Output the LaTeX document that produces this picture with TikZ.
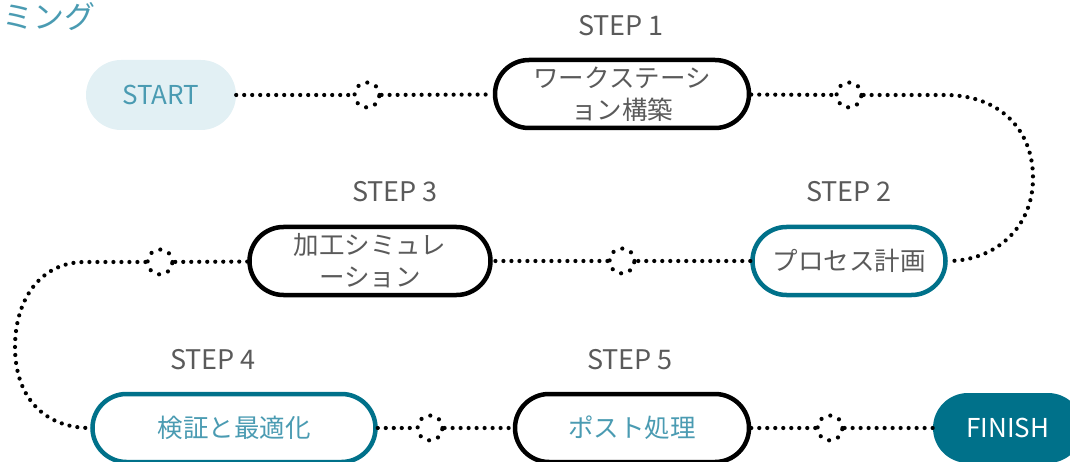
\documentclass[tikz,border=0pt]{standalone}
\usepackage{fontspec}
\setmainfont{Noto Sans CJK JP}
\usetikzlibrary{calc}
\definecolor{tealdark}{HTML}{00718A}
\definecolor{teallight}{HTML}{E2F0F4}
\definecolor{tealtext}{HTML}{4A9BB2}
\definecolor{graytext}{HTML}{5A5A5A}
\tikzset{
  pill/.style={rectangle, rounded corners=34pt, minimum height=68pt, inner sep=0pt, align=center, line width=4.5pt},
  blackpill/.style={pill, draw=black, fill=white, text=graytext, font=\fontsize{25.5}{32}\selectfont},
  tealpill/.style={pill, draw=tealdark, fill=white, text=graytext, font=\fontsize{25.5}{32}\selectfont},
  endpill/.style={rectangle, rounded corners=35pt, minimum height=70pt, inner sep=0pt, font=\fontsize{26}{30}\selectfont},
  steplabel/.style={text=graytext, font=\fontsize{27}{30}\selectfont, inner sep=0pt},
  dotline/.style={line width=4.2pt, line cap=round, dash pattern=on 0pt off 8pt},
  ring/.style={circle, minimum size=25pt, inner sep=0pt, draw=black, line width=4.2pt, line cap=round, dash pattern=on 0pt off 9.6pt},
}
\begin{document}
\begin{tikzpicture}[x=1pt,y=-1pt]
\useasboundingbox (0,0) rectangle (1070,462);
\clip (0,0) rectangle (1070,462);
% title fragment
\node[anchor=west, inner sep=0pt, text=tealtext, font=\fontsize{31}{34}\selectfont] (title) at (2,17) {ミング};
% nodes
\node[endpill, fill=teallight, text=tealtext, minimum width=150pt] (start) at (161,95) {START};
\node[blackpill, minimum width=254pt] (s1) at (622,94) {ワークステーシ\\ョン構築};
\node[tealpill, minimum width=193pt] (s2) at (849,261) {プロセス計画};
\node[blackpill, minimum width=241pt] (s3) at (370,261) {加工シミュレ\\ーション};
\node[tealpill, text=tealtext, minimum width=283pt] (s4) at (234,428) {検証と最適化};
\node[blackpill, text=tealtext, minimum width=234pt] (s5) at (632,428) {ポスト処理};
\node[endpill, fill=tealdark, text=white, minimum width=150pt] (finish) at (1008,428) {FINISH};
% step labels
\node[steplabel] (l1) at (621,26) {STEP 1};
\node[steplabel] (l2) at (849,192) {STEP 2};
\node[steplabel] (l3) at (395,192) {STEP 3};
\node[steplabel] (l4) at (213,360) {STEP 4};
\node[steplabel] (l5) at (630,360) {STEP 5};
% rings
\node[ring] (c1) at (367,95) {};
\node[ring] (c2) at (849,95) {};
\node[ring] (c3) at (622,261) {};
\node[ring] (c4) at (160,262) {};
\node[ring] (c5) at (430,428) {};
\node[ring] (c6) at (830,428) {};
\coordinate (k1) at (945,95);
\coordinate (k2) at (85,262);
% connectors
\draw[dotline] (start) -- (c1);
\draw[dotline] (c1) -- (s1);
\draw[dotline] (s1) -- (c2);
\draw[dotline] (c2) -- (k1) .. controls (1000,95) and (1033,130) .. (1033,178) .. controls (1033,228) and (995,261) .. (s2.east);
\draw[dotline] (s2) -- (c3);
\draw[dotline] (c3) -- (s3);
\draw[dotline] (s3) -- (c4);
\draw[dotline] (c4) -- (k2) .. controls (40,262) and (15,300) .. (15,347) .. controls (15,398) and (45,428) .. (s4.west);
\draw[dotline] (s4) -- (c5);
\draw[dotline] (c5) -- (s5);
\draw[dotline] (s5) -- (c6);
\draw[dotline] (c6) -- (finish);
\end{tikzpicture}
\end{document}
